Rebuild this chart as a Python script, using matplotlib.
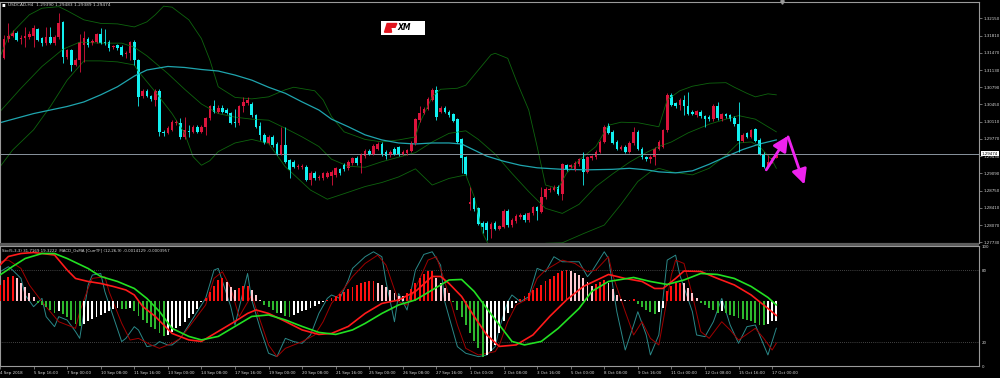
import numpy as np
import matplotlib.pyplot as plt
import matplotlib.transforms as mtransforms
from matplotlib.patches import Polygon, Rectangle

# ---- USDCAD H4 candles (bar 0 = 4 Sep 08:00) ----
opens = [1.3093, 1.3136, 1.3175, 1.3180, 1.3187, 1.3175, 1.3177, 1.3179, 1.3180, 1.3193,
         1.3177, 1.3167, 1.3179, 1.3166, 1.3179, 1.3207, 1.3138, 1.3152, 1.3123, 1.3133,
         1.3162, 1.3175, 1.3166, 1.3169, 1.3185, 1.3169, 1.3169, 1.3158, 1.3162, 1.3159,
         1.3145, 1.3146, 1.3169, 1.3133, 1.3062, 1.3072, 1.3062, 1.3054, 1.3072, 1.2991,
         1.2989, 1.2995, 1.3008, 1.3008, 1.2980, 1.2993, 1.2991, 1.3001, 1.2991, 1.3000,
         1.3018, 1.3041, 1.3031, 1.3039, 1.3035, 1.3029, 1.3011, 1.3008, 1.3041, 1.3047,
         1.3046, 1.3024, 1.3002, 1.2985, 1.2969, 1.2981, 1.2967, 1.2948, 1.2965, 1.2935,
         1.2932, 1.2922, 1.2921, 1.2922, 1.2896, 1.2910, 1.2899, 1.2899, 1.2902, 1.2904,
         1.2906, 1.2917, 1.2926, 1.2919, 1.2929, 1.2940, 1.2929, 1.2943, 1.2954, 1.2948,
         1.2958, 1.2967, 1.2952, 1.2945, 1.2958, 1.2962, 1.2948, 1.2950, 1.2954, 1.2968,
         1.3014, 1.3029, 1.3037, 1.3054, 1.3074, 1.3031, 1.3039, 1.3031, 1.3026, 1.3016,
         1.2976, 1.2941, 1.2848, 1.2860, 1.2840, 1.2812, 1.2812, 1.2800, 1.2812, 1.2800,
         1.2804, 1.2835, 1.2807, 1.2815, 1.2822, 1.2827, 1.2817, 1.2830, 1.2842, 1.2833,
         1.2862, 1.2876, 1.2877, 1.2883, 1.2869, 1.2925, 1.2922, 1.2917, 1.2927, 1.2937,
         1.2912, 1.2939, 1.2941, 1.2952, 1.2971, 1.3002, 1.2991, 1.2971, 1.2958, 1.2962,
         1.2952, 1.2968, 1.2991, 1.2958, 1.2941, 1.2937, 1.2942, 1.2958, 1.2962, 1.2994,
         1.3064, 1.3047, 1.3044, 1.3054, 1.3041, 1.3031, 1.3024, 1.3031, 1.3022, 1.3021,
         1.3016, 1.3042, 1.3016, 1.3026, 1.3024, 1.3019, 1.3006, 1.2973, 1.2988, 1.2981,
         1.2996, 1.2975, 1.2948, 1.2922, 1.2932, 1.29390]
highs = [1.3139, 1.3182, 1.3206, 1.3192, 1.3190, 1.3182, 1.3198, 1.3190, 1.3202, 1.3196,
         1.3179, 1.3198, 1.3198, 1.3182, 1.3225, 1.3210, 1.3155, 1.3155, 1.3136, 1.3185,
         1.3189, 1.3178, 1.3174, 1.3187, 1.3195, 1.3193, 1.3172, 1.3163, 1.3165, 1.3162,
         1.3150, 1.3171, 1.3172, 1.3135, 1.3076, 1.3075, 1.3064, 1.3075, 1.3075, 1.2994,
         1.3002, 1.3014, 1.3014, 1.3018, 1.3021, 1.3004, 1.3004, 1.3004, 1.3004, 1.3021,
         1.3044, 1.3054, 1.3043, 1.3043, 1.3038, 1.3031, 1.3037, 1.3044, 1.3060, 1.3060,
         1.3049, 1.3027, 1.3011, 1.2988, 1.2984, 1.2984, 1.2970, 1.3001, 1.3001, 1.2938,
         1.2935, 1.2928, 1.2928, 1.2925, 1.2913, 1.2913, 1.2905, 1.2912, 1.2913, 1.2915,
         1.2922, 1.2920, 1.2929, 1.2935, 1.2942, 1.2943, 1.2950, 1.2957, 1.2957, 1.2966,
         1.2971, 1.2970, 1.2955, 1.2955, 1.2961, 1.2964, 1.2955, 1.2958, 1.2972, 1.3019,
         1.3041, 1.3040, 1.3059, 1.3077, 1.3081, 1.3042, 1.3042, 1.3034, 1.3029, 1.3019,
         1.2979, 1.2944, 1.2883, 1.2863, 1.2843, 1.2815, 1.2815, 1.2813, 1.2815, 1.2808,
         1.2838, 1.2838, 1.2820, 1.2828, 1.2830, 1.2830, 1.2833, 1.2845, 1.2845, 1.2883,
         1.2882, 1.2882, 1.2886, 1.2886, 1.2930, 1.2928, 1.2928, 1.2933, 1.2940, 1.2952,
         1.2944, 1.2946, 1.2955, 1.2974, 1.3004, 1.3008, 1.2994, 1.2974, 1.2965, 1.2965,
         1.2972, 1.3001, 1.2994, 1.2961, 1.2943, 1.2945, 1.2961, 1.2974, 1.2997, 1.3067,
         1.3067, 1.3050, 1.3057, 1.3064, 1.3070, 1.3034, 1.3035, 1.3034, 1.3025, 1.3024,
         1.3045, 1.3050, 1.3029, 1.3029, 1.3027, 1.3022, 1.3050, 1.2988, 1.2991, 1.2997,
         1.2999, 1.2978, 1.2951, 1.2945, 1.2942, 1.29483]
lows = [1.3090, 1.3134, 1.3169, 1.3178, 1.3170, 1.3165, 1.3159, 1.3175, 1.3159, 1.3170,
        1.3160, 1.3162, 1.3164, 1.3163, 1.3175, 1.3126, 1.3135, 1.3112, 1.3120, 1.3110,
        1.3129, 1.3159, 1.3163, 1.3166, 1.3164, 1.3163, 1.3150, 1.3155, 1.3153, 1.3140,
        1.3136, 1.3133, 1.3123, 1.3041, 1.3058, 1.3059, 1.3051, 1.3041, 1.2983, 1.2983,
        1.2986, 1.2992, 1.3005, 1.2977, 1.2977, 1.2981, 1.2988, 1.2988, 1.2988, 1.2985,
        1.3015, 1.3028, 1.3028, 1.3028, 1.3026, 1.3006, 1.3001, 1.3005, 1.3031, 1.3044,
        1.3021, 1.2998, 1.2975, 1.2966, 1.2966, 1.2962, 1.2945, 1.2945, 1.2929, 1.2899,
        1.2919, 1.2918, 1.2918, 1.2893, 1.2886, 1.2896, 1.2896, 1.2896, 1.2899, 1.2886,
        1.2902, 1.2906, 1.2914, 1.2916, 1.2926, 1.2926, 1.2909, 1.2940, 1.2945, 1.2945,
        1.2955, 1.2944, 1.2937, 1.2942, 1.2945, 1.2944, 1.2945, 1.2945, 1.2951, 1.2965,
        1.3011, 1.3026, 1.3034, 1.3051, 1.3014, 1.3028, 1.3028, 1.3021, 1.3010, 1.2968,
        1.2909, 1.2905, 1.2837, 1.2835, 1.2807, 1.2791, 1.2777, 1.2781, 1.2797, 1.2797,
        1.2801, 1.2804, 1.2804, 1.2812, 1.2819, 1.2814, 1.2814, 1.2827, 1.2817, 1.2830,
        1.2859, 1.2873, 1.2874, 1.2866, 1.2856, 1.2914, 1.2919, 1.2914, 1.2924, 1.2886,
        1.2909, 1.2936, 1.2938, 1.2949, 1.2968, 1.2986, 1.2966, 1.2955, 1.2955, 1.2949,
        1.2949, 1.2965, 1.2955, 1.2938, 1.2934, 1.2929, 1.2925, 1.2955, 1.2959, 1.2991,
        1.3041, 1.3039, 1.3034, 1.3024, 1.3024, 1.3024, 1.3021, 1.3019, 1.3001, 1.3013,
        1.3013, 1.3015, 1.3013, 1.3019, 1.3013, 1.3003, 1.2952, 1.2970, 1.2978, 1.2978,
        1.2970, 1.2945, 1.2919, 1.2919, 1.2929, 1.29389]
closes = [1.3136, 1.3175, 1.3180, 1.3187, 1.3173, 1.3177, 1.3180, 1.3185, 1.3195, 1.3173,
          1.3166, 1.3179, 1.3167, 1.3179, 1.3206, 1.3138, 1.3152, 1.3123, 1.3133, 1.3169,
          1.3177, 1.3162, 1.3171, 1.3184, 1.3167, 1.3166, 1.3156, 1.3160, 1.3156, 1.3142,
          1.3147, 1.3169, 1.3133, 1.3060, 1.3072, 1.3062, 1.3055, 1.3072, 1.2991, 1.2989,
          1.2999, 1.3011, 1.3011, 1.2980, 1.2995, 1.2991, 1.3001, 1.2991, 1.3001, 1.3018,
          1.3041, 1.3031, 1.3039, 1.3031, 1.3029, 1.3009, 1.3009, 1.3041, 1.3050, 1.3054,
          1.3024, 1.3001, 1.2985, 1.2969, 1.2981, 1.2965, 1.2948, 1.2965, 1.2932, 1.2916,
          1.2922, 1.2924, 1.2924, 1.2896, 1.2910, 1.2899, 1.2902, 1.2909, 1.2909, 1.2912,
          1.2919, 1.2909, 1.2917, 1.2932, 1.2939, 1.2929, 1.2947, 1.2954, 1.2948, 1.2963,
          1.2967, 1.2947, 1.2943, 1.2952, 1.2948, 1.2947, 1.2952, 1.2955, 1.2969, 1.3016,
          1.3029, 1.3037, 1.3056, 1.3074, 1.3021, 1.3039, 1.3031, 1.3024, 1.3013, 1.2971,
          1.2939, 1.2908, 1.2853, 1.2838, 1.2810, 1.2804, 1.2797, 1.2810, 1.2800, 1.2805,
          1.2835, 1.2807, 1.2817, 1.2825, 1.2827, 1.2817, 1.2830, 1.2842, 1.2835, 1.2862,
          1.2879, 1.2879, 1.2883, 1.2869, 1.2927, 1.2917, 1.2925, 1.2930, 1.2937, 1.2912,
          1.2941, 1.2943, 1.2952, 1.2971, 1.3001, 1.2989, 1.2969, 1.2958, 1.2962, 1.2952,
          1.2969, 1.2991, 1.2958, 1.2941, 1.2937, 1.2942, 1.2958, 1.2971, 1.2994, 1.3064,
          1.3044, 1.3042, 1.3054, 1.3041, 1.3027, 1.3027, 1.3032, 1.3022, 1.3016, 1.3016,
          1.3042, 1.3018, 1.3026, 1.3022, 1.3016, 1.3006, 1.2973, 1.2985, 1.2981, 1.2994,
          1.2973, 1.2948, 1.2922, 1.2932, 1.2939, 1.29474]

date_ticks = list(range(0, 185, 8))
date_labels = ["4 Sep 2018", "5 Sep 16:00", "7 Sep 00:00", "10 Sep 08:00", "11 Sep 16:00",
               "13 Sep 00:00", "14 Sep 08:00", "17 Sep 16:00", "19 Sep 00:00", "20 Sep 08:00",
               "21 Sep 16:00", "25 Sep 00:00", "26 Sep 08:00", "27 Sep 16:00", "1 Oct 00:00",
               "2 Oct 08:00", "3 Oct 16:00", "5 Oct 00:00", "8 Oct 08:00", "9 Oct 16:00",
               "11 Oct 00:00", "12 Oct 08:00", "15 Oct 16:00", "17 Oct 00:00"]
price_ticks = [1.27730, 1.28070, 1.28410, 1.28750, 1.29090, 1.29430, 1.29770,
               1.30110, 1.30450, 1.30790, 1.31130, 1.31470, 1.31810, 1.32150]
last_price = 1.29474

# slow moving average (teal)
ma_bars = [0, 8, 16, 20, 24, 28, 32, 35, 40, 44, 48, 52, 56, 60, 64, 68, 72, 76, 79, 83,
           87, 91, 95, 99, 103, 107, 110, 113, 116, 120, 124, 128, 134, 140, 146, 150, 154,
           157, 161, 165, 169, 173, 177, 181, 185]
ma_vals = [1.3009, 1.3027, 1.3041, 1.3050, 1.3064, 1.3080, 1.3101, 1.3113, 1.3120, 1.3118,
           1.3114, 1.3111, 1.3103, 1.3093, 1.3079, 1.3067, 1.3050, 1.3034, 1.3016, 1.3001,
           1.2985, 1.2975, 1.2969, 1.2967, 1.2969, 1.2969, 1.2967, 1.2955, 1.2943, 1.2933,
           1.2925, 1.2920, 1.2917, 1.2916, 1.2917, 1.2919, 1.2916, 1.2912, 1.2910, 1.2914,
           1.2927, 1.2942, 1.2956, 1.2967, 1.2975]

# Bollinger bands (dark green)
bb_up_bars = [0, 2, 5, 7, 10, 14, 16, 20, 24, 28, 32, 35, 37, 39, 41, 45, 48, 50, 52, 56,
              60, 64, 68, 70, 75, 77, 79, 82, 87, 91, 95, 99, 100, 103, 105, 109, 111, 114,
              117, 118, 121, 123, 126, 128, 130, 133, 135, 138, 142, 145, 148, 152, 157,
              159, 162, 165, 169, 173, 175, 178, 180, 183, 185]
bb_up_vals = [1.3139, 1.3179, 1.3205, 1.3222, 1.3235, 1.3238, 1.3230, 1.3212, 1.3205, 1.3204,
              1.3198, 1.3208, 1.3222, 1.3239, 1.3237, 1.3212, 1.3175, 1.3133, 1.3080, 1.3059,
              1.3056, 1.3060, 1.3074, 1.3079, 1.3072, 1.3054, 1.3021, 1.2991, 1.2976, 1.2971,
              1.2975, 1.2981, 1.3008, 1.3060, 1.3075, 1.3077, 1.3083, 1.3113, 1.3143, 1.3146,
              1.3136, 1.3093, 1.3034, 1.2962, 1.2886, 1.2879, 1.2909, 1.2935, 1.2962, 1.3004,
              1.3010, 1.3009, 1.3001, 1.3054, 1.3072, 1.3081, 1.3087, 1.3088, 1.3079, 1.3067,
              1.3060, 1.3066, 1.3064]
bb_mid_bars = [0, 5, 10, 15, 19, 24, 29, 32, 35, 40, 44, 48, 52, 56, 60, 64, 68, 72, 76, 79,
               83, 87, 91, 95, 99, 103, 107, 111, 114, 118, 122, 126, 130, 134, 138, 142, 146,
               150, 154, 157, 160, 164, 169, 173, 176, 180, 183, 185]
bb_mid_vals = [1.3031, 1.3077, 1.3120, 1.3154, 1.3168, 1.3166, 1.3166, 1.3158, 1.3141, 1.3106,
               1.3075, 1.3046, 1.3027, 1.3020, 1.3016, 1.3014, 1.2998, 1.2981, 1.2962, 1.2937,
               1.2923, 1.2921, 1.2932, 1.2941, 1.2950, 1.2971, 1.2988, 1.2993, 1.2976, 1.2947,
               1.2909, 1.2873, 1.2840, 1.2830, 1.2848, 1.2883, 1.2908, 1.2931, 1.2950, 1.2962,
               1.2971, 1.2989, 1.3006, 1.3016, 1.3023, 1.3016, 1.3001, 1.2991]
bb_lo_bars = [0, 3, 8, 12, 16, 20, 24, 28, 32, 33, 37, 41, 44, 46, 48, 50, 52, 56, 60, 64,
              68, 74, 78, 82, 87, 91, 95, 99, 103, 107, 111, 113, 115, 118, 123, 128, 130,
              134, 139, 144, 148, 152, 155, 157, 160, 165, 169, 173, 176, 179, 181, 184, 185]
bb_lo_vals = [1.2922, 1.2955, 1.2995, 1.3041, 1.3093, 1.3131, 1.3131, 1.3129, 1.3123, 1.3110,
              1.3070, 1.3027, 1.2988, 1.2942, 1.2925, 1.2934, 1.2952, 1.2969, 1.2976, 1.2968,
              1.2922, 1.2876, 1.2858, 1.2869, 1.2883, 1.2891, 1.2902, 1.2918, 1.2886, 1.2899,
              1.2906, 1.2863, 1.2791, 1.2744, 1.2718, 1.2751, 1.2771, 1.2772, 1.2790, 1.2807,
              1.2848, 1.2893, 1.2912, 1.2919, 1.2912, 1.2906, 1.2919, 1.2945, 1.2969, 1.2971,
              1.2962, 1.2935, 1.2919]

# Stochastic (5,3,3)
sto_k_bars = [0, 2, 3, 5, 6, 8, 10, 11, 13, 14, 16, 18, 19, 21, 22, 24, 25, 27, 29, 30,
              32, 33, 35, 37, 38, 40, 41, 43, 45, 47, 49, 51, 52, 55, 56, 59, 60, 62, 64, 66,
              68, 70, 72, 74, 76, 78, 79, 81, 83, 84, 87, 89, 91, 92, 94, 95, 97, 99, 101, 103,
              105, 106, 109, 111, 114, 116, 118, 119, 121, 122, 124, 126, 128, 130, 132, 134,
              138, 140, 141, 144, 145, 147, 149, 151, 152, 154, 155, 157, 158, 159, 161, 162,
              165, 166, 168, 170, 172, 174, 176, 178, 180, 182, 183, 184, 185]
sto_k_vals = [78.6, 82.8, 80.0, 73.1, 59.3, 49.6, 56.5, 41.3, 33.0, 41.3, 38.5, 28.9, 23.3,
              67.6, 75.9, 77.2, 62.0, 41.3, 20.6, 23.3, 33.0, 30.2, 16.4, 17.8, 20.6, 17.8,
              17.8, 23.3, 34.4, 45.4, 56.5, 80.0, 81.4, 49.6, 34.4, 77.2, 55.1, 31.6, 10.9,
              8.1, 23.3, 20.6, 19.2, 26.1, 44.1, 56.5, 59.3, 56.5, 71.7, 81.4, 91.1, 95.2,
              91.1, 70.3, 37.1, 60.6, 46.8, 80.0, 93.0, 95.2, 84.1, 53.7, 16.4, 10.9, 8.1,
              9.5, 16.4, 31.6, 53.7, 59.3, 53.7, 57.9, 81.4, 78.6, 91.1, 86.9, 86.9, 74.5,
              78.6, 95.2, 89.7, 45.4, 13.6, 34.4, 45.4, 26.1, 9.5, 26.1, 56.5, 88.3, 92.4,
              75.9, 45.4, 26.1, 24.7, 37.1, 56.5, 34.4, 19.2, 33.0, 34.4, 17.8, 9.5, 20.6, 31.7]
sto_d_bars = [0, 2, 5, 7, 10, 12, 14, 16, 18, 19, 21, 22, 25, 26, 29, 31, 33, 36, 38, 41,
              43, 46, 49, 51, 53, 55, 57, 60, 61, 64, 66, 68, 72, 75, 77, 79, 82, 84, 87, 90,
              92, 95, 97, 99, 102, 104, 106, 109, 111, 114, 118, 119, 121, 123, 126, 128, 130,
              134, 137, 140, 142, 145, 146, 149, 151, 153, 155, 157, 158, 160, 161, 163, 165,
              167, 169, 172, 174, 176, 180, 182, 184, 185]
sto_d_vals = [86.9, 88.3, 81.4, 67.6, 53.7, 45.4, 37.1, 34.4, 31.6, 45.4, 64.8, 73.1, 74.5,
              62.0, 35.8, 21.9, 23.3, 17.8, 15.0, 19.2, 23.3, 37.1, 51.0, 73.1, 78.6, 64.8,
              41.3, 59.3, 48.2, 17.8, 8.1, 15.0, 20.6, 26.1, 37.1, 52.4, 64.8, 74.5, 85.5,
              92.4, 84.1, 53.7, 51.0, 64.8, 88.3, 91.1, 70.3, 34.4, 15.0, 9.5, 12.3, 17.8,
              37.1, 51.0, 56.5, 73.1, 80.0, 88.3, 85.5, 78.6, 80.0, 91.1, 75.9, 45.4, 26.1,
              37.1, 23.3, 17.8, 37.1, 75.9, 88.3, 85.5, 59.3, 28.9, 23.3, 37.1, 30.2, 21.9,
              31.6, 23.3, 13.6, 19.3]

# MACD_OsMA (12,26,9), values in 1e-4
macd_bars = [0, 2, 5, 8, 10, 13, 14, 16, 18, 21, 24, 27, 30, 32, 34, 37, 39, 41, 45, 48,
             50, 52, 56, 59, 61, 64, 68, 72, 76, 79, 83, 87, 91, 95, 99, 103, 105, 107, 110,
             113, 116, 119, 123, 127, 131, 135, 139, 143, 145, 149, 153, 156, 158, 161, 163,
             167, 171, 175, 179, 183, 185]
macd_vals = [7.2, 8.9, 9.5, 9.7, 9.5, 9.2, 8.2, 6.2, 4.5, 3.9, 3.5, 2.9, 2.2, 1.2, -1.1,
             -3.1, -4.8, -6.5, -7.8, -8.1, -7.1, -6.1, -4.1, -2.5, -1.8, -2.5, -4.1, -5.8,
             -6.7, -6.5, -5.1, -2.5, -0.5, 0.2, 1.9, 4.9, 4.9, 3.5, 0.9, -3.1, -6.8, -9.1,
             -8.8, -6.8, -3.1, 0.2, 2.9, 4.5, 5.3, 4.5, 3.9, 2.5, 2.5, 4.5, 6.0, 5.9, 4.5,
             3.2, 1.2, -1.5, -2.9]
sig_bars = [0, 3, 6, 10, 13, 16, 21, 24, 28, 32, 35, 38, 41, 45, 48, 52, 56, 60, 64, 68,
            72, 76, 80, 84, 87, 91, 95, 99, 103, 107, 110, 113, 116, 119, 122, 125, 129,
            133, 138, 141, 145, 151, 155, 159, 163, 167, 171, 175, 179, 183, 185]
sig_vals = [5.2, 6.9, 8.5, 9.5, 9.5, 8.5, 6.5, 4.9, 3.9, 2.5, 0.5, -2.1, -5.5, -7.1, -7.8,
            -7.1, -5.1, -3.1, -2.8, -3.8, -5.1, -6.3, -6.7, -5.8, -4.5, -2.5, -0.8, 0.2, 2.2,
            4.2, 4.3, 1.9, -1.5, -4.8, -8.1, -8.8, -8.1, -5.5, -1.5, 1.9, 3.9, 4.7, 3.9, 3.3,
            4.2, 5.5, 5.3, 4.5, 2.9, 0.7, -0.8]
osma = [3.2, 4.2, 4.7, 4.9, 4.5, 3.5, 2.7, 1.6, 0.8, -0.4, -0.9, -1.3, -1.8, -2.4, -2.1,
        -2.6, -3.2, -3.9, -4.6, -5.0, -4.6, -4.1, -3.6, -3.2, -2.9, -2.4, -2.0, -1.6, -1.4,
        -1.6, -1.7, -1.5, -2.0, -3.0, -3.8, -4.5, -5.2, -5.6, -6.4, -7.0, -6.8, -6.2, -5.5,
        -5.0, -4.2, -3.4, -2.6, -1.6, -0.3, 0.6, 1.8, 2.9, 4.2, 4.6, 3.7, 2.8, 2.2, 2.6, 2.9,
        3.0, 2.2, 1.2, 0.2, -0.8, -1.3, -1.9, -2.5, -2.4, -3.1, -3.2, -2.9, -2.5, -2.1, -1.8,
        -1.4, -1.0, -0.6, -0.3, 0.1, 0.5, 0.9, 1.3, 1.8, 2.3, 2.8, 3.2, 3.5, 3.7, 3.9, 4.0,
        3.6, 3.2, 2.7, 2.2, 1.6, 1.0, 0.9, 1.5, 2.4, 3.5, 4.5, 5.3, 5.9, 6.0, 4.5, 3.5, 2.5,
        1.5, -0.3, -1.8, -3.2, -4.8, -6.5, -8.0, -9.5, -11.3, -10.9, -10.0, -8.8, -6.5, -4.1,
        -2.5, -1.5, -0.4, 0.4, 1.0, 1.6, 2.2, 2.6, 3.2, 3.9, 4.4, 5.0, 5.5, 5.9, 6.2, 5.9,
        5.6, 5.2, 4.5, 3.8, 2.9, 3.4, 3.8, 4.2, 3.6, 2.4, 1.2, 0.3, 0.1, 0.2, 0.3, -0.6,
        -1.2, -1.8, -2.3, -2.7, -2.2, -1.4, 2.0, 3.0, 3.5, 3.6, 3.5, 2.5, 1.5, 0.6, -0.4,
        -0.9, -1.4, -1.9, -2.4, -2.1, -2.5, -2.8, -3.0, -3.4, -3.7, -3.9, -4.1, -4.4, -4.8,
        -4.9, -4.6, -4.1, -3.96]

# drawn arrows (bar, price)
arrow_up = [(182.6, 1.2916), (187.8, 1.2983)]
arrow_down = [(187.8, 1.2981), (191.7, 1.2887)]

BULL = '#dc143c'
BEAR = '#12f0f0'
BB = '#0e640e'
FRAME = '#9a9a9a'
TXT = '#d8d8d8'
FS = 2.9

fig = plt.figure(figsize=(10, 3.78), dpi=100, facecolor='black')
# gray separator band between the two windows
fig.patches.append(Rectangle((0, 1 - 246 / 378), 0.979, 3 / 378, transform=fig.transFigure,
                             facecolor='#5c5c5c', edgecolor='none', zorder=0))
ax1 = fig.add_axes([0, 1 - 243 / 378, 0.979, 241 / 378], facecolor='black')
ax2 = fig.add_axes([0, 0.0307, 0.979, 0.3185], facecolor='black')
axm = ax2.twinx()
xlim = (0.0, 233.3)

# ---- price panel ----
x = np.arange(len(closes))
o, h, l, c = map(np.array, (opens, highs, lows, closes))
col = np.where(c >= o, BULL, BEAR)
ax1.plot(bb_up_bars, bb_up_vals, color=BB, lw=0.6)
ax1.plot(bb_mid_bars, bb_mid_vals, color=BB, lw=0.6)
ax1.plot(bb_lo_bars, bb_lo_vals, color=BB, lw=0.6)
ax1.plot(ma_bars, ma_vals, color='#1fa5ae', lw=0.9)
ax1.axhline(last_price, color='#8a949e', lw=0.7)
ax1.vlines(x, l, h, colors=col, lw=0.6)
ax1.bar(x, np.maximum(np.abs(c - o), 0.00004), bottom=np.minimum(o, c), width=0.62,
        color=col, linewidth=0)

for a in (arrow_up, arrow_down):
    ax1.annotate('', xy=a[1], xytext=a[0],
                 arrowprops=dict(arrowstyle='-|>,head_length=0.9,head_width=0.45',
                                 color='#ee22ee', lw=2.0, shrinkA=0, shrinkB=0))

ax1.set_xlim(*xlim)
ax1.set_ylim(1.27716, 1.32472)
ax1.set_xticks([])
ax1.yaxis.tick_right()
ax1.set_yticks(price_ticks)
ax1.set_yticklabels([f'{p:.5f}' for p in price_ticks])
ax1.tick_params(axis='y', colors=FRAME, labelcolor=TXT, labelsize=FS, length=2,
                width=0.5, pad=1)
tr = mtransforms.blended_transform_factory(ax1.transAxes, ax1.transData)
ax1.text(1.003, last_price, f'{last_price:.5f}', transform=tr, fontsize=FS, color='black',
         va='center', ha='left', zorder=10,
         bbox=dict(facecolor='white', edgecolor='none', pad=0.4))
ax1.plot([186.4], [1.32472], marker='v', ms=2.5, color=FRAME, clip_on=False)

# ---- indicator panel: stochastic on ax2, OsMA on the twin ----
ax2.axhline(80, color='#808080', lw=0.5, ls=(0, (1, 2)))
ax2.axhline(20, color='#808080', lw=0.5, ls=(0, (1, 2)))
ax2.plot(sto_k_bars, sto_k_vals, color='#2a8888', lw=0.7)
ax2.plot(sto_d_bars, sto_d_vals, color='#a00000', lw=0.7)
ax2.set_xlim(*xlim)
ax2.set_ylim(0, 100)
ax2.set_xticks(date_ticks)
ax2.set_xticklabels(date_labels)
for lbl in ax2.get_xticklabels():
    lbl.set_ha('left')
ax2.tick_params(axis='x', colors=FRAME, labelcolor=TXT, labelsize=FS, length=2,
                width=0.5, pad=1)
ax2.set_yticks([])

v = np.array(osma)
prev = np.r_[v[0], v[:-1]]
hcol = np.where(v >= 0, np.where(v >= prev, '#ff1010', '#ffc8d0'),
                np.where(v <= prev, '#2eb82e', '#ffffff'))
axm.bar(x, v, width=0.45, color=hcol, linewidth=0)
axm.plot(macd_bars, macd_vals, color='#ff1a1a', lw=1.2)
axm.plot(sig_bars, sig_vals, color='#22e022', lw=1.2)
axm.set_ylim(-13.1, 11.0)
axm.set_xlim(*xlim)
# level labels of the stochastic scale, placed on the twin's right side
lvl = [0, 20, 80, 100]
axm.set_yticks([-13.1 + s * 24.1 / 100 for s in lvl])
axm.set_yticklabels([str(s) for s in lvl])
axm.tick_params(axis='y', colors=FRAME, labelcolor=TXT, labelsize=FS, length=0, pad=2)

for ax in (ax1, ax2):
    for s in ax.spines.values():
        s.set_color(FRAME)
        s.set_linewidth(0.8)
for s in axm.spines.values():
    s.set_visible(False)

# ---- texts ----
fig.text(0.002, 1 - 5 / 378, '\u25aa', fontsize=4, color='white', va='center')
fig.text(0.008, 1 - 5 / 378, 'USDCAD,H4  1.29390 1.29483 1.29389 1.29474',
         fontsize=3.1, color=TXT, va='center')
fig.text(0.002, 1 - 250 / 378,
         'Sto(5,3,3) 31.7169 19.3222  MACD_OsMA [CurrTF] (12,26,9) -0.0014129 -0.0003957',
         fontsize=FS, color=TXT, va='center')

# XM logo
lg = fig.add_axes([0.381, 1 - 35 / 378, 0.044, 14 / 378], facecolor='white')
lg.set_xticks([])
lg.set_yticks([])
for s in lg.spines.values():
    s.set_visible(False)
lg.set_xlim(0, 1)
lg.set_ylim(0, 1)
lg.add_patch(Polygon([[0.08, 0.2], [0.14, 0.82], [0.36, 0.82], [0.32, 0.55],
                      [0.22, 0.55], [0.24, 0.2]], closed=True, color='#e0141e'))
lg.text(0.38, 0.52, 'XM', fontsize=5.5, fontweight='bold', style='italic',
        color='black', va='center', ha='left')

fig.savefig('out.png', dpi=100, facecolor='black')
